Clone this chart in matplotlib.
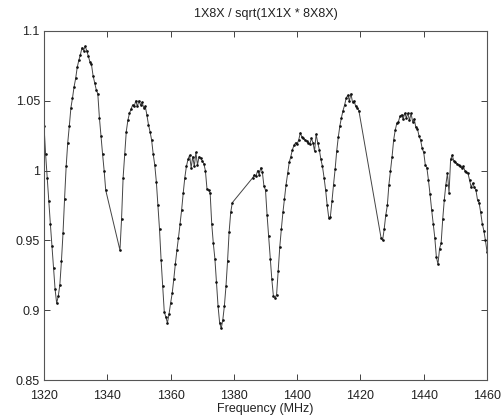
import numpy as np
import matplotlib
matplotlib.use('Agg')
import matplotlib.pyplot as plt
from matplotlib.ticker import FuncFormatter

plt.rcParams['font.family'] = ['Liberation Sans', 'DejaVu Sans']

# frequency (MHz) and ratio; gaps are bridged by straight lines
freq_a = [1320.0, 1320.5, 1321.0, 1321.5, 1322.0, 1322.5, 1323.0, 1323.5, 1324.0, 1324.5,
          1325.0, 1325.5, 1326.0, 1326.5, 1327.0, 1327.5, 1328.0, 1328.5, 1329.0, 1329.5,
          1330.0, 1330.5, 1331.0, 1331.5, 1332.0, 1332.5, 1333.0, 1333.5, 1334.0, 1334.5,
          1335.0, 1335.5, 1336.0, 1336.5, 1337.0, 1337.5, 1338.0, 1338.5, 1339.0, 1339.5]
ratio_a = [1.032, 1.012, 0.995, 0.978, 0.962, 0.946, 0.930, 0.915, 0.905, 0.910,
           0.918, 0.935, 0.955, 0.980, 1.003, 1.020, 1.032, 1.045, 1.052, 1.060,
           1.066, 1.074, 1.079, 1.083, 1.088, 1.086, 1.089, 1.086, 1.082, 1.078,
           1.076, 1.068, 1.063, 1.058, 1.055, 1.038, 1.025, 1.012, 1.000, 0.986]

freq_b = [1344.0, 1344.5, 1345.0, 1345.5, 1346.0, 1346.5, 1347.0, 1347.5, 1348.0, 1348.5,
          1349.0, 1349.5, 1350.0, 1350.5, 1351.0, 1351.5, 1352.0, 1352.5, 1353.0, 1353.5,
          1354.0, 1354.5, 1355.0, 1355.5, 1356.0, 1356.5, 1357.0, 1357.5, 1358.0, 1358.5,
          1359.0, 1359.5, 1360.0, 1360.5, 1361.0, 1361.5, 1362.0, 1362.5, 1363.0, 1363.5,
          1364.0, 1364.5, 1365.0, 1365.5, 1366.0, 1366.5, 1367.0, 1367.5, 1368.0, 1368.5,
          1369.0, 1369.5, 1370.0, 1370.5, 1371.0, 1371.5, 1372.0, 1372.5, 1373.0, 1373.5,
          1374.0, 1374.5, 1375.0, 1375.5, 1376.0, 1376.5, 1377.0, 1377.5, 1378.0, 1378.5,
          1379.0, 1379.5]
ratio_b = [0.943, 0.965, 0.995, 1.012, 1.028, 1.036, 1.041, 1.044, 1.047, 1.046,
           1.050, 1.046, 1.050, 1.047, 1.049, 1.045, 1.046, 1.040, 1.033, 1.028,
           1.022, 1.012, 1.004, 0.992, 0.975, 0.958, 0.936, 0.917, 0.899, 0.895,
           0.891, 0.897, 0.905, 0.912, 0.922, 0.933, 0.943, 0.952, 0.962, 0.972,
           0.984, 0.995, 1.003, 1.008, 1.011, 1.002, 1.010, 1.003, 1.013, 1.004,
           1.010, 1.009, 1.007, 1.005, 1.000, 0.987, 0.986, 0.984, 0.962, 0.948,
           0.937, 0.920, 0.903, 0.891, 0.887, 0.893, 0.903, 0.917, 0.935, 0.956,
           0.970, 0.977]

freq_c = [1386.0, 1386.5, 1387.0, 1387.5, 1388.0, 1388.5, 1389.0, 1389.5, 1390.0, 1390.5,
          1391.0, 1391.5, 1392.0, 1392.5, 1393.0, 1393.5, 1394.0, 1394.5, 1395.0, 1395.5,
          1396.0, 1396.5, 1397.0, 1397.5, 1398.0, 1398.5, 1399.0, 1399.5, 1400.0, 1400.5,
          1401.0, 1401.5, 1402.0, 1402.5, 1403.0, 1403.5, 1404.0, 1404.5, 1405.0, 1405.5,
          1406.0, 1406.5, 1407.0, 1407.5, 1408.0, 1408.5, 1409.0, 1409.5, 1410.0, 1410.5,
          1411.0, 1411.5, 1412.0, 1412.5, 1413.0, 1413.5, 1414.0, 1414.5, 1415.0, 1415.5,
          1416.0, 1416.5, 1417.0, 1417.5, 1418.0, 1418.5, 1419.0, 1419.5]
ratio_c = [0.995, 0.997, 0.996, 1.000, 0.997, 1.002, 0.999, 0.989, 0.986, 0.968,
           0.953, 0.937, 0.922, 0.910, 0.909, 0.911, 0.928, 0.945, 0.958, 0.970,
           0.980, 0.990, 0.998, 1.006, 1.010, 1.015, 1.018, 1.020, 1.019, 1.022,
           1.027, 1.024, 1.023, 1.022, 1.021, 1.020, 1.019, 1.023, 1.020, 1.014,
           1.026, 1.020, 1.015, 1.008, 1.003, 0.995, 0.986, 0.975, 0.966, 0.967,
           0.978, 0.990, 1.001, 1.014, 1.024, 1.032, 1.038, 1.043, 1.047, 1.052,
           1.054, 1.050, 1.055, 1.049, 1.050, 1.046, 1.045, 1.043]

freq_d = [1426.5, 1427.0, 1427.5, 1428.0, 1428.5, 1429.0, 1429.5, 1430.0, 1430.5, 1431.0,
          1431.5, 1432.0, 1432.5, 1433.0, 1433.5, 1434.0, 1434.5, 1435.0, 1435.5, 1436.0,
          1436.5, 1437.0, 1437.5, 1438.0, 1438.5, 1439.0, 1439.5, 1440.0, 1440.5, 1441.0,
          1441.5, 1442.0, 1442.5, 1443.0, 1443.5, 1444.0, 1444.5, 1445.0, 1445.5, 1446.0,
          1446.5, 1447.0, 1447.5, 1448.0, 1448.5, 1449.0, 1449.5, 1450.0, 1450.5, 1451.0,
          1451.5, 1452.0, 1452.5, 1453.0, 1453.5, 1454.0, 1454.5, 1455.0, 1455.5, 1456.0,
          1456.5, 1457.0, 1457.5, 1458.0, 1458.5, 1459.0, 1459.5, 1460.0]
ratio_d = [0.952, 0.950, 0.958, 0.968, 0.975, 0.990, 1.000, 1.010, 1.022, 1.029,
           1.034, 1.035, 1.039, 1.040, 1.037, 1.041, 1.038, 1.041, 1.036, 1.041,
           1.035, 1.037, 1.031, 1.030, 1.025, 1.022, 1.016, 1.013, 1.004, 1.002,
           0.993, 0.983, 0.972, 0.962, 0.952, 0.938, 0.933, 0.944, 0.948, 0.965,
           0.979, 0.990, 0.998, 0.984, 1.008, 1.011, 1.007, 1.006, 1.005, 1.004,
           1.003, 1.002, 1.003, 1.000, 0.999, 0.998, 0.993, 0.988, 0.991, 0.988,
           0.986, 0.979, 0.977, 0.970, 0.962, 0.957, 0.950, 0.942]

xticks = [1320, 1340, 1360, 1380, 1400, 1420, 1440, 1460]
yticks = [0.85, 0.9, 0.95, 1.0, 1.05, 1.1]

freq = np.array(freq_a + freq_b + freq_c + freq_d)
ratio = np.array(ratio_a + ratio_b + ratio_c + ratio_d)

fig = plt.figure(figsize=(5.03, 4.17), dpi=100)
ax = fig.add_axes([0.0875, 0.0887, 0.8807, 0.837])
ax.plot(freq, ratio, '-', color='#444444', lw=0.7,
        marker='.', markersize=1.8, markerfacecolor='#111111', markeredgecolor='#111111')

ax.set_xlim(1320, 1460)
ax.set_ylim(0.85, 1.1)
ax.set_xticks(xticks)
ax.set_yticks(yticks)
ax.yaxis.set_major_formatter(FuncFormatter(lambda v, p: '%g' % v))
ax.tick_params(direction='in', top=True, right=True, length=4, width=0.6,
               labelsize=9, colors='#222222')
ax.tick_params(axis='x', pad=7)
ax.tick_params(axis='y', pad=3)
for s in ax.spines.values():
    s.set_linewidth(0.8)
    s.set_color('#555555')

ax.set_title('1X8X / sqrt(1X1X * 8X8X)', fontsize=9, color='#222222', pad=10)
ax.set_xlabel('Frequency (MHz)', fontsize=9, color='#222222', labelpad=1)

plt.savefig('out.png', dpi=100)
